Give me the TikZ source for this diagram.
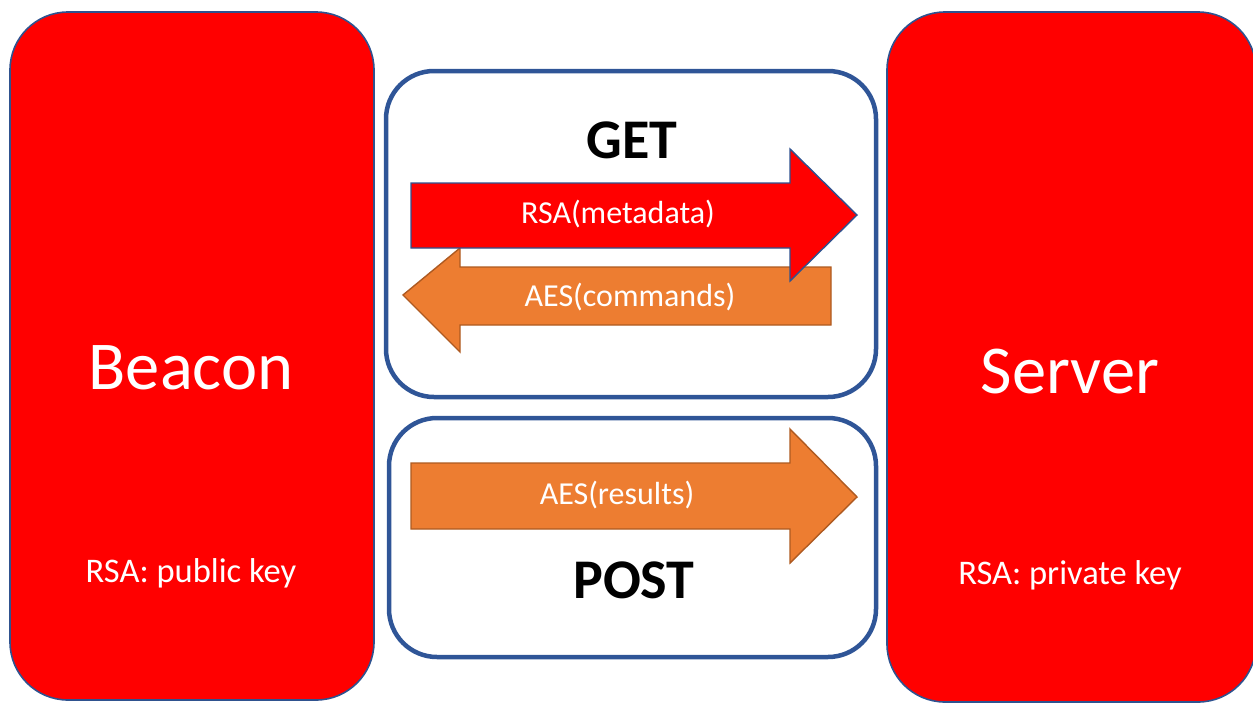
\documentclass[tikz,border=0pt]{standalone}
\usepackage{fontspec}
\setmainfont{Carlito}
\definecolor{boxred}{HTML}{FF0000}
\definecolor{edgeblue}{HTML}{2F528F}
\definecolor{frameblue}{HTML}{2F5597}
\definecolor{aesorange}{HTML}{ED7D31}
\definecolor{aesedge}{HTML}{AE5A21}
\tikzset{
  party/.style={fill=boxred, draw=edgeblue, line width=1.6pt, rounded corners=58pt},
  frame/.style={draw=frameblue, line width=4.5pt, rounded corners=48pt},
  rsaarrow/.style={fill=boxred, draw=edgeblue, line width=1.4pt, line join=miter},
  aesarrow/.style={fill=aesorange, draw=aesedge, line width=1.4pt, line join=miter},
  bigname/.style={text=white, font=\fontsize{68.5}{72}\selectfont},
  keytext/.style={text=white, font=\fontsize{34.5}{38}\selectfont},
  arrowtext/.style={text=white, font=\fontsize{32}{35}\selectfont},
  verb/.style={text=black, font=\bfseries\fontsize{56}{60}\selectfont}
}
\begin{document}
\begin{tikzpicture}[x=1pt, y=-1pt]
  \useasboundingbox (0,0) rectangle (1253,704);
  \clip (0,0) rectangle (1253,704);

  % client and server
  \draw[party] (10,12) rectangle (374,700);
  \draw[party] (887,12) rectangle (1256,702);
  \node[bigname] (beacon) at (191,368) {Beacon};
  \node[keytext] (pubkey) at (191,573) {RSA: public key};
  \node[bigname] (server) at (1070,372) {Server};
  \node[keytext] (privkey) at (1070,575) {RSA: private key};

  % request frames
  \draw[frame] (386,71) rectangle (876,397);
  \draw[frame] (389,418) rectangle (876,657);

  % GET exchange
  \node[verb] (get) at (632,140) {GET};
  \draw[aesarrow] (831,267) -- (460,267) -- (460,248) -- (403,295)
    -- (460,352) -- (460,325) -- (831,325) -- cycle;
  \node[arrowtext] (cmds) at (630,297) {AES(commands)};
  \draw[rsaarrow] (411,183) -- (790,183) -- (790,149) -- (857,215)
    -- (790,281) -- (790,248) -- (411,248) -- cycle;
  \node[arrowtext] (meta) at (618,214) {RSA(metadata)};

  % POST exchange
  \draw[aesarrow] (411,463) -- (790,463) -- (790,429) -- (857,497)
    -- (790,563) -- (790,529) -- (411,529) -- cycle;
  \node[arrowtext] (results) at (617,495) {AES(results)};
  \node[verb] (post) at (634,580) {POST};
\end{tikzpicture}
\end{document}
